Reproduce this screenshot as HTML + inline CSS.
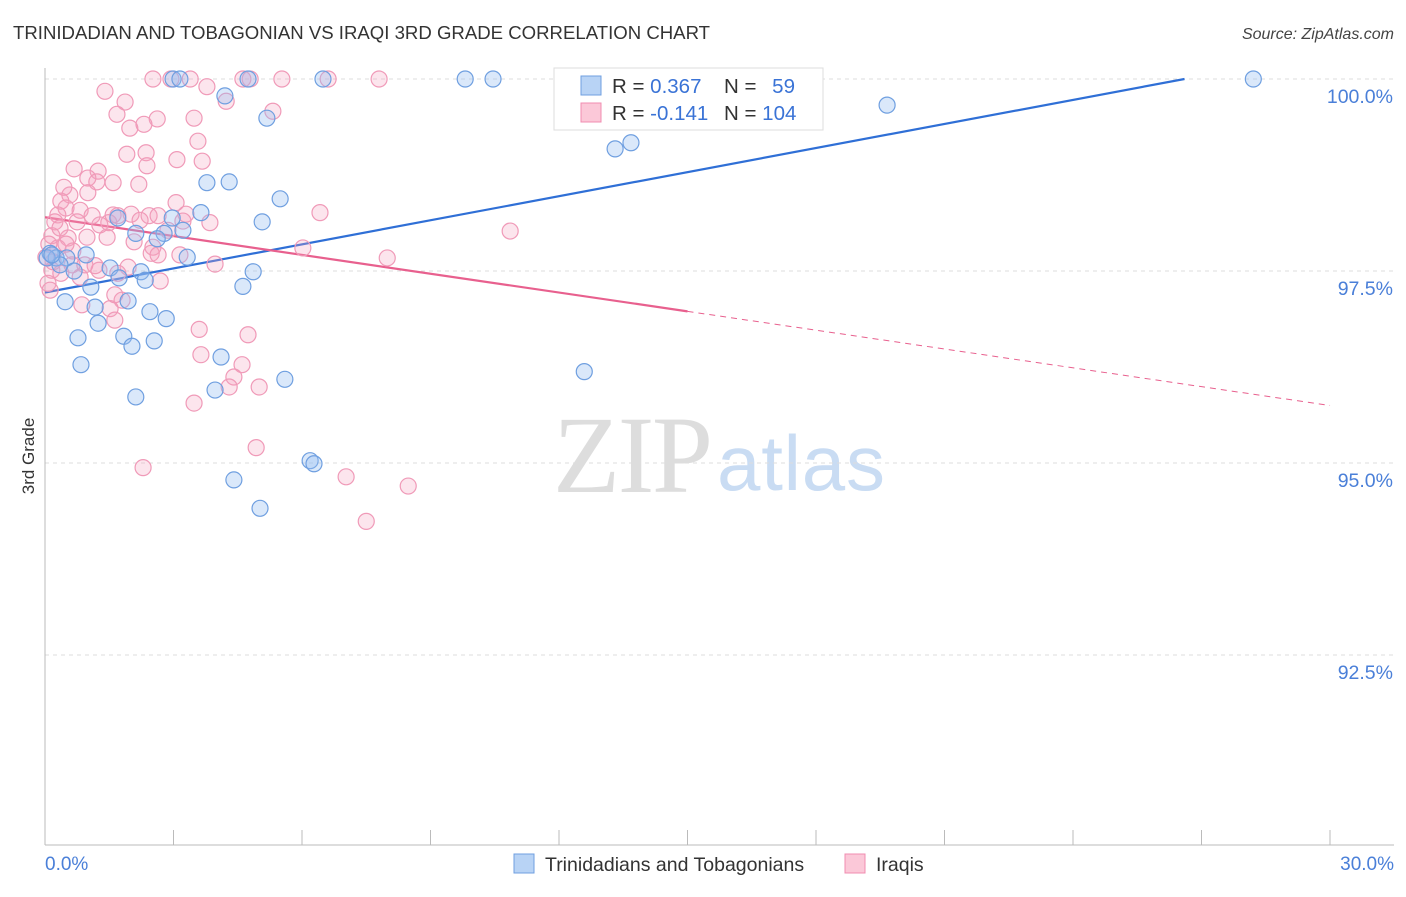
<!DOCTYPE html>
<html><head><meta charset="utf-8"><style>
body{margin:0;background:#fff;width:1406px;height:892px;overflow:hidden;font-family:"Liberation Sans",sans-serif;}
</style></head><body>
<svg id="chart" width="1406" height="892" xmlns="http://www.w3.org/2000/svg" font-family="Liberation Sans, sans-serif">
<text x="13" y="39" font-size="18.6" fill="#333">TRINIDADIAN AND TOBAGONIAN VS IRAQI 3RD GRADE CORRELATION CHART</text>
<text x="1394" y="39" font-size="16" fill="#444" text-anchor="end" font-style="italic">Source: ZipAtlas.com</text>
<text transform="translate(34,456) rotate(-90)" font-size="17" fill="#333" text-anchor="middle">3rd Grade</text>
<g>
<text x="553" y="492" font-size="110" fill="#ddd" font-family="Liberation Serif, serif" textLength="160">ZIP</text>
<text x="717" y="490" font-size="78" fill="#c9dcf3" textLength="168">atlas</text>
</g>
<g id="grid"></g><g id="axes"></g><g id="lines"></g><g id="pts"></g>
<g>
<rect x="554" y="68" width="269" height="62" fill="#fff" stroke="#ddd"/>
<rect x="581" y="76" width="20" height="19" fill="#b8d3f5" stroke="#6f9fe0"/>
<rect x="581" y="103" width="20" height="19" fill="#fbc8d8" stroke="#f08cb0"/>
<text x="612" y="93" font-size="20.5" fill="#333">R = <tspan fill="#3a73d6">0.367</tspan></text>
<text x="724" y="93" font-size="20.5" fill="#333">N = <tspan fill="#3a73d6" dx="10">59</tspan></text>
<text x="612" y="120" font-size="20.5" fill="#333">R = <tspan fill="#3a73d6">-0.141</tspan></text>
<text x="724" y="120" font-size="20.5" fill="#333">N = <tspan fill="#3a73d6">104</tspan></text>
</g>
<g>
<rect x="514" y="854" width="20" height="19" fill="#b8d3f5" stroke="#6f9fe0"/>
<text x="545" y="871" font-size="19.5" fill="#333">Trinidadians and Tobagonians</text>
<rect x="845" y="854" width="20" height="19" fill="#fbc8d8" stroke="#f08cb0"/>
<text x="876" y="871" font-size="19.5" fill="#333">Iraqis</text>
</g>
</svg>
<script>
const yTicks=[100,97.5,95,92.5];
const yTickLabels=["100.0%","97.5%","95.0%","92.5%"];
const xTickLabels=["0.0%","30.0%"];
const blueX=[2.99,3.15,4.74,6.49,9.81,10.46,28.21,4.20,19.66,5.18,13.31,13.68,3.78,4.30,5.49,3.64,2.97,5.07,1.70,3.22,2.78,2.62,2.12,0.12,0.26,0.51,0.96,0.35,0.68,1.52,2.24,3.32,4.86,2.34,1.73,1.07,4.62,0.47,1.17,1.94,2.45,2.83,1.24,0.77,1.84,2.03,2.55,4.11,0.84,12.59,5.60,3.97,2.12,6.19,6.28,4.41,5.02,0.05,0.16];
const blueY=[100,100,100,100,100,100,100,99.78,99.66,99.49,99.09,99.17,98.65,98.66,98.44,98.26,98.19,98.14,98.19,98.03,97.99,97.92,97.99,97.73,97.67,97.67,97.71,97.58,97.50,97.54,97.49,97.68,97.49,97.38,97.41,97.29,97.30,97.10,97.03,97.11,96.97,96.88,96.82,96.63,96.65,96.52,96.59,96.38,96.28,96.19,96.09,95.95,95.86,95.03,94.99,94.78,94.41,97.67,97.71];
const pinkX=[2.52,2.94,3.39,4.62,4.79,5.53,6.61,7.80,1.40,3.78,4.23,1.87,1.68,5.32,2.62,3.48,1.98,2.31,3.57,1.91,2.36,3.67,3.08,2.38,0.68,1.24,1.00,1.59,1.21,0.58,3.06,0.37,0.49,0.82,0.30,1.10,2.01,1.70,2.43,2.64,3.29,6.42,0.23,0.75,1.49,2.22,3.22,10.86,0.16,0.54,0.98,1.45,2.08,2.52,6.02,0.09,0.30,0.65,2.48,2.64,7.99,3.97,0.16,0.37,0.82,1.26,1.70,2.69,0.07,0.12,1.80,0.86,1.52,1.63,3.60,4.74,3.64,4.60,4.41,4.30,5.00,3.48,4.93,2.29,7.03,8.48,7.50,1.17,1.94,0.63,1.63,0.02,1.28,1.00,2.19,0.35,3.85,3.15,2.87,0.93,0.19,0.49,1.59,0.44];
const pinkY=[100,100,100,100,100,100,100,100,99.84,99.90,99.71,99.70,99.54,99.58,99.48,99.49,99.36,99.41,99.19,99.02,99.04,98.93,98.95,98.87,98.83,98.80,98.71,98.65,98.66,98.49,98.39,98.41,98.32,98.29,98.23,98.22,98.24,98.22,98.22,98.22,98.24,98.26,98.14,98.14,98.13,98.16,98.15,98.02,97.96,97.93,97.94,97.94,97.88,97.81,97.80,97.85,97.80,97.76,97.73,97.71,97.67,97.59,97.51,97.47,97.42,97.51,97.47,97.37,97.34,97.25,97.12,97.06,97.01,96.86,96.74,96.67,96.41,96.28,96.12,95.99,95.99,95.78,95.20,94.94,94.82,94.70,94.24,97.57,97.55,97.58,97.19,97.68,98.10,98.52,98.63,98.06,98.13,97.71,98.03,97.58,97.62,97.85,98.23,98.59];
const blueTrend=[97.22,0.1045];
const pinkTrend=[98.20,-0.0817];
const NS="http://www.w3.org/2000/svg";
const sx=v=>45+v/30*1285, sy=v=>79+(100-v)/2.5*192;
function mk(t,a,p){const e=document.createElementNS(NS,t);for(const k in a)e.setAttribute(k,a[k]);p.appendChild(e);return e;}
const grid=document.getElementById('grid'),axes=document.getElementById('axes'),lines=document.getElementById('lines'),pts=document.getElementById('pts');
yTicks.forEach((t,i)=>{
 const l=mk('line',{x1:45,x2:1394,y1:sy(t),y2:sy(t),stroke:'#ddd','stroke-dasharray':'4,4'},grid);
 
 
 const tx=mk('text',{x:1393,y:sy(t)+24,'font-size':19.5,fill:'#4a7fd8','text-anchor':'end'},axes);
 tx.textContent=yTickLabels[i];
 
 
});
mk('line',{x1:45,x2:45,y1:68,y2:845,stroke:'#bbb'},axes);
mk('line',{x1:45,x2:1394,y1:845,y2:845,stroke:'#bbb'},axes);
for(let i=0;i<=10;i++){const x=sx(i*3);mk('line',{x1:x,x2:x,y1:830,y2:845,stroke:'#bbb'},axes);}
[[0,'start',45],[30,'end',1394]].forEach((d,i)=>{const t=mk('text',{x:d[2],y:870,'font-size':19,fill:'#4a7fd8','text-anchor':d[1]},axes);t.textContent=xTickLabels[i];
 
 });
function dots(X,Y,fill,stroke,name){X.forEach((x,i)=>{const c=mk('circle',{cx:sx(x),cy:sy(Y[i]),r:8,fill:fill,stroke:stroke,'stroke-width':1.2},pts);
 
 });}
dots(pinkX,pinkY,'rgba(245,160,190,0.28)','#f09ab8','iraqi-point');
dots(blueX,blueY,'rgba(150,190,240,0.35)','#6f9fe0','trinidadian-point');
const bEnd=(100-blueTrend[0])/blueTrend[1];
const bl=mk('line',{x1:sx(0),y1:sy(blueTrend[0]),x2:sx(bEnd),y2:sy(100),stroke:'#2f6fd6','stroke-width':2.2},lines);


const pl=mk('line',{x1:sx(0),y1:sy(pinkTrend[0]),x2:sx(15),y2:sy(pinkTrend[0]+15*pinkTrend[1]),stroke:'#e8608e','stroke-width':2.2},lines);


const pd=mk('line',{x1:sx(15),y1:sy(pinkTrend[0]+15*pinkTrend[1]),x2:sx(30),y2:sy(pinkTrend[0]+30*pinkTrend[1]),stroke:'#e8608e','stroke-width':1,'stroke-dasharray':'6,5'},lines);


</script>
</body></html>
